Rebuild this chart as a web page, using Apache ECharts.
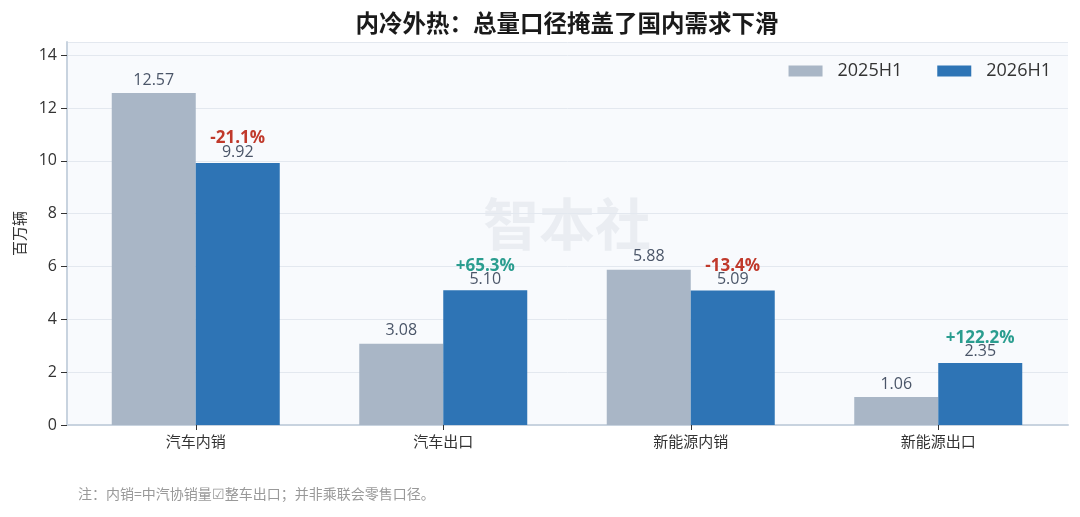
<!DOCTYPE html>
<html><head><meta charset="utf-8">
<script src="https://cdn.jsdelivr.net/npm/echarts@6/dist/echarts.min.js"></script>
<style>html,body{margin:0;padding:0;background:#fff}#c{width:1080px;height:517px}</style>
</head><body><div id="c"></div>
<script>
const categories = ['汽车内销', '汽车出口', '新能源内销', '新能源出口'];
const values2025 = [12.57, 3.08, 5.88, 1.06];
const values2026 = [9.92, 5.10, 5.09, 2.35];
const changeLabels = ['-21.1%', '+65.3%', '-13.4%', '+122.2%'];
const yTicks = { min: 0, max: 14.5, interval: 2 };

const FONT = '"Open Sans", "Noto Sans CJK SC", sans-serif';
const CJK = '"Noto Sans CJK SC", sans-serif';
const chart = echarts.init(document.getElementById('c'));
chart.setOption({
  animation: false,
  textStyle: { fontFamily: FONT },
  legend: {
    data: ['2025H1', '2026H1'],
    right: 24, top: 57,
    itemWidth: 34, itemHeight: 11, itemGap: 35,
    icon: 'rect',
    textStyle: { fontSize: 18, color: '#333', fontFamily: FONT, padding: [0, 0, 0, 10] }
  },
  grid: [
    { left: 67, right: 12, top: 42, bottom: 92, show: true, backgroundColor: '#f8fafd', borderWidth: 0 },
    { left: 72, right: 18, top: 42, bottom: 92 }
  ],
  graphic: [
    { type: 'text', x: 567, y: 23, z: 10,
      style: { text: '内冷外热：总量口径掩盖了国内需求下滑', fontSize: 23.5, fontWeight: 'bold', fill: '#1a1a1a',
        fontFamily: CJK, align: 'center', verticalAlign: 'middle' } },
    { type: 'text', left: 483, top: 196, z: 0, silent: true,
      style: { text: '智本社', fontSize: 56, fontWeight: 'bold', fill: '#eaedf2', fontFamily: CJK } },
    { type: 'text', left: 78, top: 487,
      style: { text: '注：内销=中汽协销量☑整车出口；并非乘联会零售口径。', fontSize: 14, fill: '#999', fontFamily: CJK } }
  ],
  xAxis: [
    {
      gridIndex: 0, type: 'category', data: categories,
      axisLine: { lineStyle: { color: '#c8d3df', width: 2 } },
      axisTick: { show: false }, axisLabel: { show: false }
    },
    {
      gridIndex: 1, type: 'category', data: categories,
      axisLine: { show: false },
      axisTick: { show: true, alignWithLabel: true, length: 5, lineStyle: { color: '#333' } },
      axisLabel: { fontSize: 15, color: '#333', margin: 9, fontFamily: CJK }
    }
  ],
  yAxis: [
    {
      gridIndex: 0, type: 'value', min: yTicks.min, max: yTicks.max, interval: yTicks.interval,
      name: '百万辆', nameLocation: 'middle', nameGap: 40,
      nameTextStyle: { fontSize: 15, color: '#333', fontFamily: CJK },
      axisLine: { show: true, lineStyle: { color: '#c8d3df', width: 2 } },
      axisTick: { show: true, length: 6, lineStyle: { color: '#333' } },
      axisLabel: { fontSize: 16, color: '#333', margin: 10, showMaxLabel: false },
      splitLine: { lineStyle: { color: '#e3e8ef', width: 1 } }
    },
    {
      gridIndex: 1, type: 'value', min: yTicks.min, max: yTicks.max, interval: yTicks.interval,
      show: false, splitLine: { show: false }
    }
  ],
  series: [
    {
      name: '2025H1', type: 'bar', data: values2025, xAxisIndex: 1, yAxisIndex: 1,
      barWidth: 84, barGap: '0%',
      itemStyle: { color: '#a9b6c6' }, z: 2,
      label: { show: true, position: 'top', distance: 5, fontSize: 16, color: '#4a5568',
        formatter: p => p.value.toFixed(2) }
    },
    {
      name: '2026H1', type: 'bar', data: values2026, xAxisIndex: 1, yAxisIndex: 1,
      barWidth: 84, barGap: '0%',
      itemStyle: { color: '#2e74b5' }, z: 2,
      label: { show: true, position: 'top', distance: 4,
        formatter: p => '{' + (changeLabels[p.dataIndex][0] === '-' ? 'n' : 'p') + '|' + changeLabels[p.dataIndex] + '}\n{v|' + p.value.toFixed(2) + '}',
        rich: {
          n: { fontSize: 17, fontWeight: 'bold', color: '#c0392b', lineHeight: 13 },
          p: { fontSize: 17, fontWeight: 'bold', color: '#2a9d8f', lineHeight: 13 },
          v: { fontSize: 16, color: '#4a5568', lineHeight: 14 }
        }
      }
    }
  ]
});
</script></body></html>
